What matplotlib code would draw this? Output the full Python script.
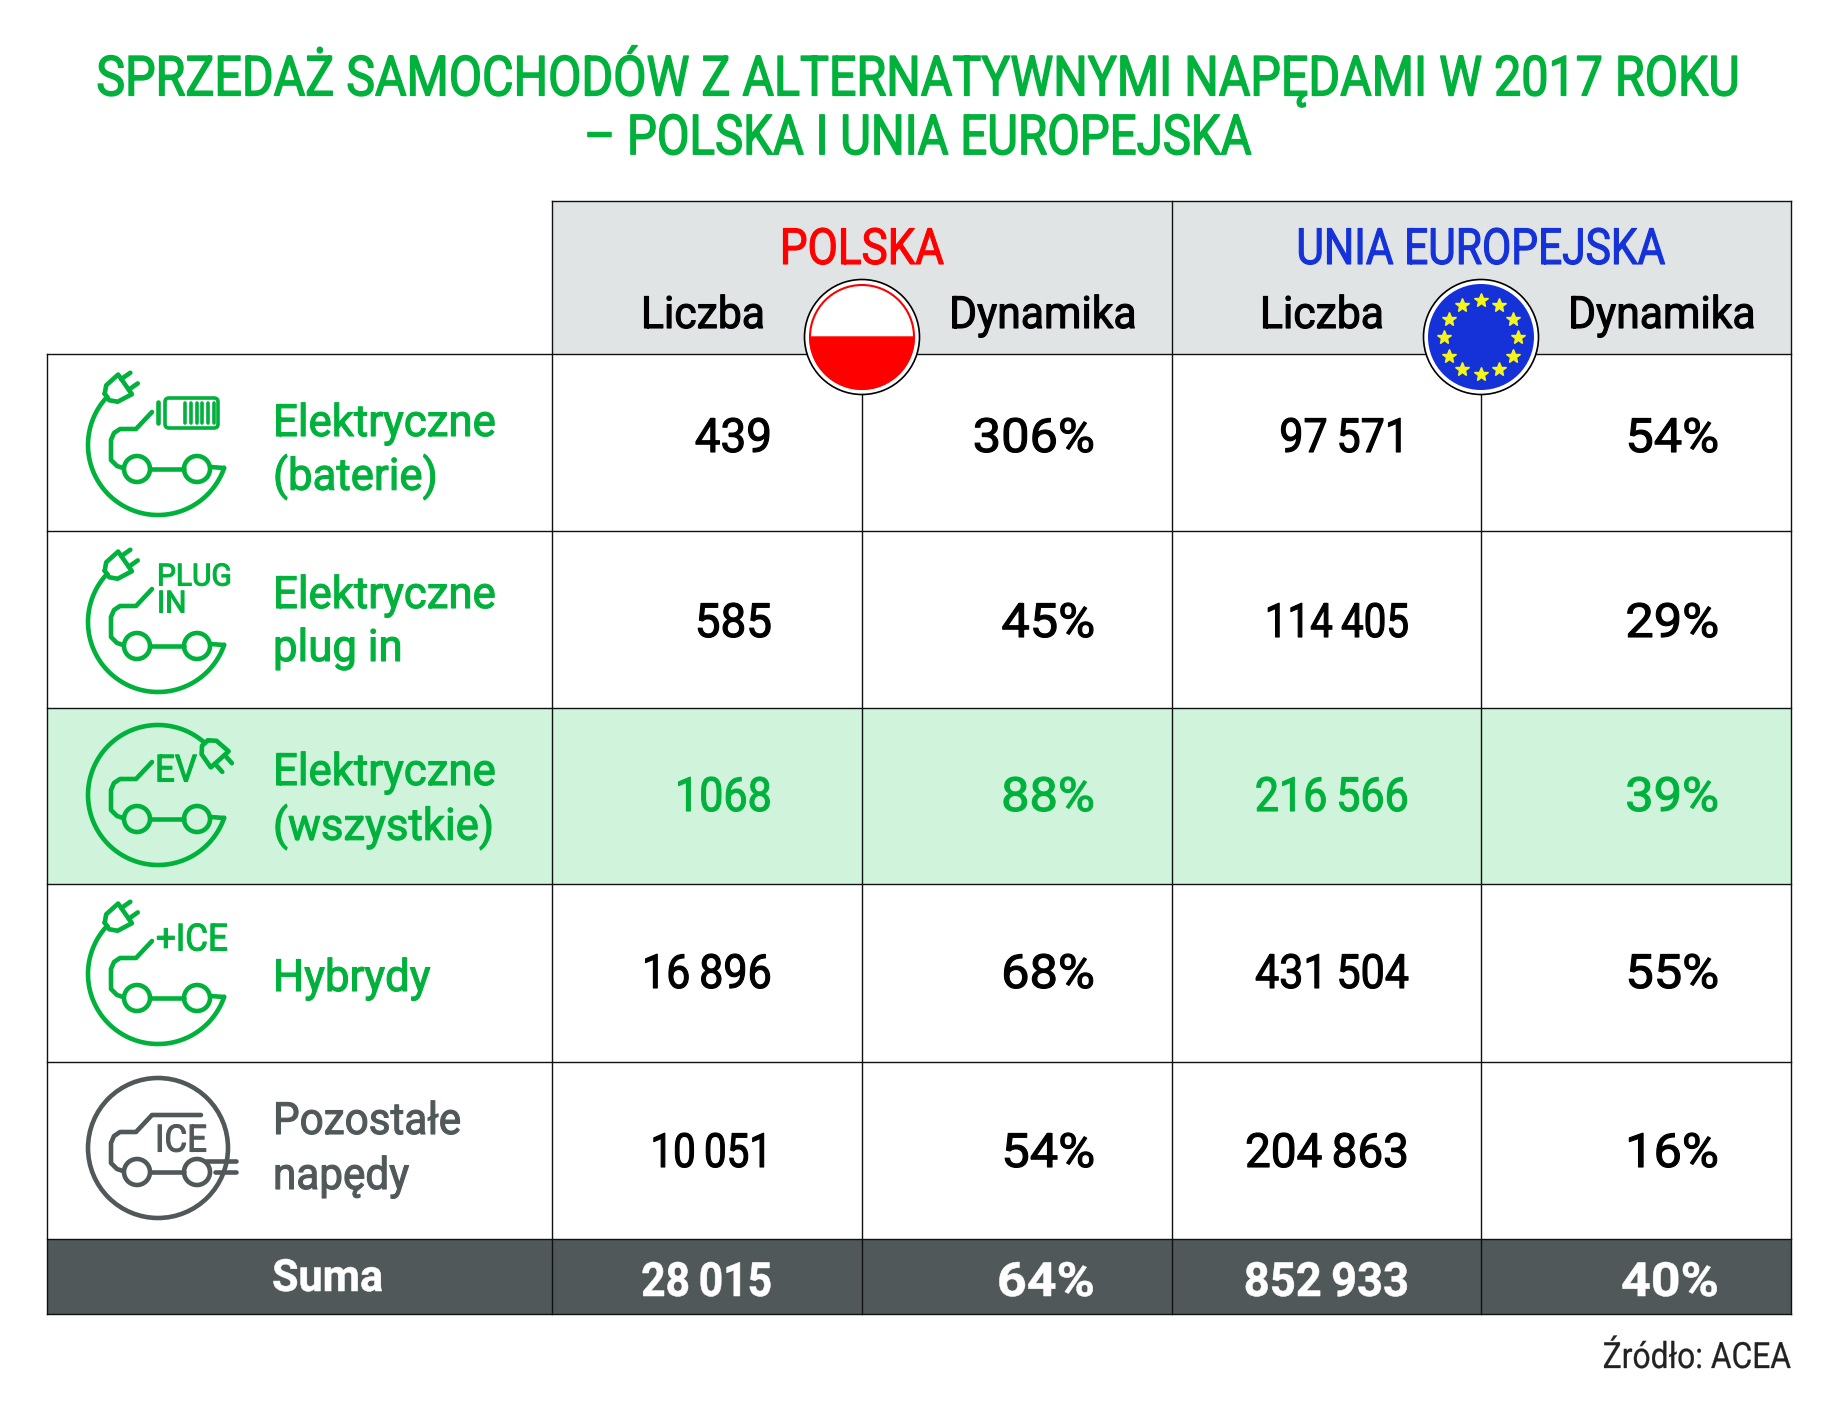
import numpy as np
import matplotlib
matplotlib.use('Agg')
import matplotlib.pyplot as plt
from matplotlib.patches import Circle, FancyBboxPatch, Rectangle
from matplotlib.patheffects import AbstractPathEffect
from matplotlib.transforms import Affine2D

plt.rcParams['font.family'] = ['Roboto', 'DejaVu Sans']

GREEN = '#00b13c'
GRAY = '#50585a'
HEAD = '#e1e4e5'
LIGHT = '#cff3db'
RED = '#ff0000'
BLUE = '#1432d8'
YELLOW = '#f5f51e'

title_lines = ['SPRZEDAŻ SAMOCHODÓW Z ALTERNATYWNYMI NAPĘDAMI W 2017 ROKU',
               '– POLSKA I UNIA EUROPEJSKA']
regions = ['POLSKA', 'UNIA EUROPEJSKA']
subheads = ['Liczba', 'Dynamika']
row_names = [['Elektryczne', '(baterie)'], ['Elektryczne', 'plug in'],
             ['Elektryczne', '(wszystkie)'], ['Hybrydy'], ['Pozostałe', 'napędy']]
pl_count = [439, 585, 1068, 16896, 10051]
pl_growth = [306, 45, 88, 68, 54]
eu_count = [97571, 114405, 216566, 431504, 204863]
eu_growth = [54, 29, 39, 55, 16]
total_name = 'Suma'
total_values = [28015, 64, 852933, 40]
source = 'Źródło: ACEA'

# uklad tabeli w pikselach
col_x = [47, 552, 862, 1172, 1481, 1791]
row_y = [354, 531, 708, 884, 1062, 1239, 1314]
head_top = 201
value_right = [772, 1095, 1409, 1719]
value_y = [439, 624, 798, 975, 1154]
name_y = [[424, 477], [596, 649], [773, 827], [979], [1122, 1177]]
icon_y = [445, 622, 795, 974, 1148]
ICON_X = 158


def fmt_count(v):
    return f'{v:,}'.replace(',', '\u2009') if v >= 10000 else str(v)


fig = plt.figure(figsize=(18.39, 14.14), dpi=100)
ax = fig.add_axes([0, 0, 1, 1])
ax.set_xlim(0, 1839)
ax.set_ylim(1414, 0)
ax.axis('off')

LW = 3.3


class Narrow(AbstractPathEffect):
    # zweza tekst w poziomie wokol x0 (i rozciaga w pionie wokol y0), lekko pogrubia
    def __init__(self, x0, y0, sx, sy, extra):
        super().__init__()
        self.x0, self.y0, self.sx, self.sy, self.extra = x0, y0, sx, sy, extra

    def draw_path(self, renderer, gc, tpath, affine, rgbFace=None):
        gc0 = renderer.new_gc()
        gc0.copy_properties(gc)
        gc0.set_foreground(rgbFace)
        gc0.set_linewidth(self.extra)
        aff = affine + Affine2D().translate(-self.x0, -self.y0).scale(self.sx, self.sy).translate(self.x0, self.y0)
        renderer.draw_path(gc0, tpath, aff, rgbFace)
        gc0.restore()


def txt(x, y, s, color, size, sx=1.0, sy=1.0, extra=0.8, ha='left', weight='normal', z=6):
    t = ax.text(x, y, s, color=color, fontsize=size, ha=ha, va='center', fontweight=weight, zorder=z)
    t.set_path_effects([Narrow(x, 1414 - y, sx, sy, extra)])
    return t


def stroke(xs, ys, color, lw=LW, z=5):
    ax.plot(xs, ys, color=color, lw=lw, solid_capstyle='round',
            solid_joinstyle='round', zorder=z)


def plug(cx, cy, tip, rot, color):
    t = np.radians(rot)
    def tr(pts):
        pts = np.array(pts, float)
        x = tip[0] + pts[:, 0] * np.cos(t) - pts[:, 1] * np.sin(t)
        y = tip[1] + pts[:, 0] * np.sin(t) + pts[:, 1] * np.cos(t)
        return cx + x, cy + y
    x, y = tr([(0, -4), (6, -10), (22, -12), (22, 12), (6, 10), (0, 4), (0, -4)])
    stroke(x, y, color)
    for v in (-6.5, 6.5):
        x, y = tr([(22, v), (33, v)])
        stroke(x, y, color)


def car(cx, cy, color, van=False):
    for wx in (-21, 39):
        ax.add_patch(Circle((cx + wx, cy + 24), 13, fc='none', ec=color, lw=LW, zorder=5))
    stroke([cx - 8, cx + 26], [cy + 24, cy + 24], color)
    bx = np.array([-35, -41, -47, -47, -44, -38, -22, -6])
    by = np.array([23, 21, 15, -5, -12, -16, -16, -33])
    if van:
        bx = np.append(bx, 43)
        by = np.append(by, -33)
    stroke(cx + bx, cy + by, color)


def arc(cx, cy, start, end, color):
    th = np.radians(np.linspace(start, end, 120))
    stroke(cx + 70 * np.cos(th), cy + 70 * np.sin(th), color)


def draw_icon(i, cx, cy):
    if i == 4:
        ax.add_patch(Circle((cx, cy), 70, fc='none', ec=GRAY, lw=LW, zorder=4))
        car(cx, cy, GRAY, van=True)
        stroke([cx + 48, cx + 78], [cy + 13, cy + 13], GRAY)
        stroke([cx + 57, cx + 78], [cy + 24, cy + 24], GRAY)
        txt(cx - 3, cy - 7, 'ICE', GRAY, 27, sx=0.93)
        return
    car(cx, cy, GREEN)
    if i == 2:
        arc(cx, cy, 312, 19, GREEN)
        plug(cx, cy, (47, -52), 48, GREEN)
        txt(cx - 3, cy - 24, 'EV', GREEN, 27, sx=0.93)
    else:
        arc(cx, cy, 223.5, 19, GREEN)
        plug(cx, cy, (-51, -48), -35, GREEN)
    stroke([cx + 66, cx + 53], [cy + 23, cy + 22], GREEN)
    if i == 0:
        ax.add_patch(FancyBboxPatch((cx + 7, cy - 47), 53, 30, boxstyle='round,pad=0,rounding_size=4',
                                    fc='none', ec=GREEN, lw=2.6, zorder=5))
        stroke([cx, cx], [cy - 43, cy - 22], GREEN)
        for k in range(6):
            stroke([cx + 27 + k * 5.8] * 2, [cy - 42, cy - 22], GREEN, lw=2.6)
    elif i == 1:
        txt(cx - 1, cy - 45, 'PLUG', GREEN, 22, sx=0.98)
        txt(cx - 1, cy - 18, 'IN', GREEN, 22, sx=0.98)
    elif i == 3:
        txt(cx - 2, cy - 34, '+ICE', GREEN, 27, sx=0.93)


# tla
ax.add_patch(Rectangle((col_x[1], head_top), col_x[5] - col_x[1], row_y[0] - head_top, fc=HEAD, ec='none'))
ax.add_patch(Rectangle((col_x[0], row_y[2]), col_x[5] - col_x[0], row_y[3] - row_y[2], fc=LIGHT, ec='none'))
ax.add_patch(Rectangle((col_x[0], row_y[5]), col_x[5] - col_x[0], row_y[6] - row_y[5], fc=GRAY, ec='none'))

# linie tabeli
for y in row_y:
    ax.plot([col_x[0], col_x[5]], [y, y], color='#111111', lw=1.0, zorder=2)
ax.plot([col_x[1], col_x[5]], [head_top, head_top], color='#111111', lw=1.0, zorder=2)
ax.plot([col_x[0], col_x[0]], [row_y[0], row_y[6]], color='#111111', lw=1.0, zorder=2)
for j in (1, 3, 5):
    ax.plot([col_x[j], col_x[j]], [head_top, row_y[6]], color='#111111', lw=1.0, zorder=2)
for j in (2, 4):
    ax.plot([col_x[j], col_x[j]], [row_y[0], row_y[6]], color='#111111', lw=1.0, zorder=2)

# tytul
txt(918, 76, title_lines[0], GREEN, 38, sx=0.917, sy=1.05, extra=1.0, ha='center')
txt(918, 139, title_lines[1], GREEN, 38, sx=0.898, sy=1.05, extra=1.0, ha='center')

# naglowki
txt(862, 250, regions[0], RED, 36, sx=0.88, ha='center')
txt(1481, 250, regions[1], BLUE, 36, sx=0.85, ha='center')
for x, s in zip([703, 1043, 1322, 1662], subheads * 2):
    txt(x, 316, s, 'black', 32, sx=0.96, ha='center')


def count_sx(text, base=0.97):
    # jedynki sa w oryginale wezsze niz w Roboto
    return base * (1 - 0.06 * text.count('1'))


# wiersze
for i, names in enumerate(row_names):
    draw_icon(i, ICON_X, icon_y[i])
    col = GRAY if i == 4 else GREEN
    for s, y in zip(names, name_y[i]):
        txt(273, y, s, col, 32, sx=0.95 if i == 4 else 0.985)
    vals = [fmt_count(pl_count[i]), f'{pl_growth[i]}%', fmt_count(eu_count[i]), f'{eu_growth[i]}%']
    vcol = GREEN if i == 2 else 'black'
    for j, (x, v) in enumerate(zip(value_right, vals)):
        txt(x, value_y[i], v, vcol, 34, sx=1.07 if j % 2 else count_sx(v), ha='right')

# suma
txt(272, 1279, total_name, 'white', 32, sx=0.97, extra=0.4, ha='left', weight='bold')
total_text = [fmt_count(total_values[0]), f'{total_values[1]}%', fmt_count(total_values[2]), f'{total_values[3]}%']
for j, (x, v) in enumerate(zip(value_right, total_text)):
    txt(x, 1283, v, 'white', 34, sx=1.1 if j % 2 else count_sx(v, 0.96), extra=0.4, ha='right', weight='bold')

txt(1791, 1358, source, '#222222', 26, sx=0.88, extra=0.2, ha='right')

# flagi
FLAG_Y = 337
ax.add_patch(Circle((862, FLAG_Y), 57.5, fc='white', ec='black', lw=1.2, zorder=7))
ax.add_patch(Circle((862, FLAG_Y), 52, fc='white', ec=RED, lw=1.5, zorder=8))
th = np.radians(np.linspace(0, 180, 80))
ax.fill(862 + 52 * np.cos(th), FLAG_Y + 52 * np.sin(th), color=RED, zorder=9)

ax.add_patch(Circle((1481, FLAG_Y), 57.5, fc='white', ec='black', lw=1.2, zorder=7))
ax.add_patch(Circle((1481, FLAG_Y), 53, fc=BLUE, ec='none', zorder=8))
th = np.radians(np.arange(0, 360, 30))
ax.plot(1481 + 37 * np.cos(th), FLAG_Y + 37 * np.sin(th), ls='none', marker='*', ms=10,
        mfc=YELLOW, mec=YELLOW, zorder=9)

fig.savefig('out.png', dpi=100, facecolor='white')
